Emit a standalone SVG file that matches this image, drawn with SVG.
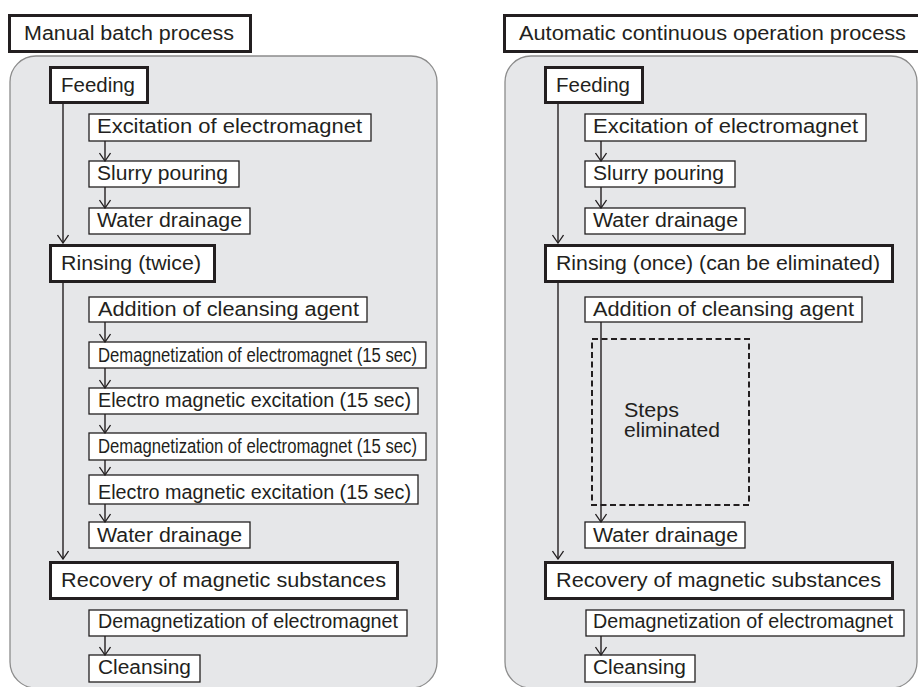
<svg xmlns="http://www.w3.org/2000/svg" width="918" height="687" viewBox="0 0 918 687">
<defs>
<style>
.panel{fill:#e6e7e9;stroke:#8c8c8c;stroke-width:1.3}
.thick{fill:#fff;stroke:#231f20;stroke-width:3}
.thin{fill:#fff;stroke:#231f20;stroke-width:1.3}
.t{font-family:"Liberation Sans",Arial,sans-serif;font-size:19.5px;fill:#231f20}
.ln{fill:none;stroke:#231f20;stroke-width:1.4}
.dash{fill:none;stroke:#231f20;stroke-width:2;stroke-dasharray:6 3.5}
</style>
<marker id="ah" viewBox="0 0 10 12" refX="9" refY="6" markerWidth="10" markerHeight="12" markerUnits="userSpaceOnUse" orient="auto">
<path d="M1,0.5 L9,6 L1,11.5" fill="none" stroke="#231f20" stroke-width="1.3"/>
</marker>
</defs>
<rect class="panel" x="10" y="56" width="427" height="632" rx="26"/>
<rect class="panel" x="505" y="56" width="412" height="632" rx="26"/>

<g id="left-title"><rect class="thick" x="9.5" y="15.5" width="241" height="36"/><text class="t" x="24" y="40" textLength="210" lengthAdjust="spacingAndGlyphs">Manual batch process</text></g>
<g id="L-feeding"><rect class="thick" x="50.5" y="67.5" width="97" height="35"/><text class="t" x="61" y="92" textLength="74" lengthAdjust="spacingAndGlyphs">Feeding</text></g>
<g id="L-excitation"><rect class="thin" x="89" y="114" width="282" height="27"/><text class="t" x="97" y="133" textLength="265" lengthAdjust="spacingAndGlyphs">Excitation of electromagnet</text></g>
<g id="L-slurry"><rect class="thin" x="89" y="161" width="150" height="26"/><text class="t" x="97" y="180" textLength="131" lengthAdjust="spacingAndGlyphs">Slurry pouring</text></g>
<g id="L-drain1"><rect class="thin" x="89" y="208" width="161" height="26"/><text class="t" x="97" y="227" textLength="145" lengthAdjust="spacingAndGlyphs">Water drainage</text></g>
<g id="L-rinsing"><rect class="thick" x="50.5" y="245.5" width="164" height="36"/><text class="t" x="61" y="270" textLength="140" lengthAdjust="spacingAndGlyphs">Rinsing (twice)</text></g>
<g id="L-addition"><rect class="thin" x="89" y="297" width="278" height="25"/><text class="t" x="98" y="316" textLength="261" lengthAdjust="spacingAndGlyphs">Addition of cleansing agent</text></g>
<g id="L-demag1"><rect class="thin" x="89" y="342" width="337" height="26"/><text class="t" x="98" y="362" textLength="319" lengthAdjust="spacingAndGlyphs">Demagnetization of electromagnet (15 sec)</text></g>
<g id="L-excit1"><rect class="thin" x="89" y="388" width="329" height="26"/><text class="t" x="98" y="407" textLength="313" lengthAdjust="spacingAndGlyphs">Electro magnetic excitation (15 sec)</text></g>
<g id="L-demag2"><rect class="thin" x="89" y="433" width="337" height="27"/><text class="t" x="98" y="453" textLength="319" lengthAdjust="spacingAndGlyphs">Demagnetization of electromagnet (15 sec)</text></g>
<g id="L-excit2"><rect class="thin" x="89" y="475" width="329" height="29"/><text class="t" x="98" y="499" textLength="313" lengthAdjust="spacingAndGlyphs">Electro magnetic excitation (15 sec)</text></g>
<g id="L-drain2"><rect class="thin" x="89" y="522" width="161" height="26"/><text class="t" x="97" y="542" textLength="145" lengthAdjust="spacingAndGlyphs">Water drainage</text></g>
<g id="L-recovery"><rect class="thick" x="50.5" y="562.5" width="347" height="36"/><text class="t" x="61" y="587" textLength="325" lengthAdjust="spacingAndGlyphs">Recovery of magnetic substances</text></g>
<g id="L-demag3"><rect class="thin" x="89" y="610" width="318" height="26"/><text class="t" x="98" y="628" textLength="300" lengthAdjust="spacingAndGlyphs">Demagnetization of electromagnet</text></g>
<g id="L-cleansing"><rect class="thin" x="89" y="655" width="111" height="27"/><text class="t" x="98" y="674" textLength="93" lengthAdjust="spacingAndGlyphs">Cleansing</text></g>

<g id="right-title"><rect class="thick" x="504.5" y="15.5" width="416" height="36"/><text class="t" x="519" y="40" textLength="387" lengthAdjust="spacingAndGlyphs">Automatic continuous operation process</text></g>
<g id="R-feeding"><rect class="thick" x="545.5" y="67.5" width="97" height="35"/><text class="t" x="556" y="92" textLength="74" lengthAdjust="spacingAndGlyphs">Feeding</text></g>
<g id="R-excitation"><rect class="thin" x="585" y="114" width="281" height="27"/><text class="t" x="593" y="133" textLength="265" lengthAdjust="spacingAndGlyphs">Excitation of electromagnet</text></g>
<g id="R-slurry"><rect class="thin" x="585" y="161" width="150" height="26"/><text class="t" x="593" y="180" textLength="131" lengthAdjust="spacingAndGlyphs">Slurry pouring</text></g>
<g id="R-drain1"><rect class="thin" x="585" y="208" width="160" height="26"/><text class="t" x="593" y="227" textLength="145" lengthAdjust="spacingAndGlyphs">Water drainage</text></g>
<g id="R-rinsing"><rect class="thick" x="545.5" y="245.5" width="347" height="36"/><text class="t" x="556" y="270" textLength="324" lengthAdjust="spacingAndGlyphs">Rinsing (once) (can be eliminated)</text></g>
<g id="R-addition"><rect class="thin" x="585" y="297" width="277" height="25"/><text class="t" x="593" y="316" textLength="261" lengthAdjust="spacingAndGlyphs">Addition of cleansing agent</text></g>
<g id="R-eliminated"><rect class="dash" x="592" y="339" width="157" height="166"/><text class="t" x="624" y="417" textLength="55" lengthAdjust="spacingAndGlyphs">Steps</text><text class="t" x="624" y="437" textLength="96" lengthAdjust="spacingAndGlyphs">eliminated</text></g>
<g id="R-drain2"><rect class="thin" x="585" y="522" width="160" height="26"/><text class="t" x="593" y="542" textLength="145" lengthAdjust="spacingAndGlyphs">Water drainage</text></g>
<g id="R-recovery"><rect class="thick" x="545.5" y="562.5" width="347" height="36"/><text class="t" x="556" y="587" textLength="325" lengthAdjust="spacingAndGlyphs">Recovery of magnetic substances</text></g>
<g id="R-demag3"><rect class="thin" x="586" y="610" width="318" height="26"/><text class="t" x="593" y="628" textLength="300" lengthAdjust="spacingAndGlyphs">Demagnetization of electromagnet</text></g>
<g id="R-cleansing"><rect class="thin" x="585" y="655" width="110" height="27"/><text class="t" x="593" y="674" textLength="93" lengthAdjust="spacingAndGlyphs">Cleansing</text></g>

<g id="connectors">
<line class="ln" x1="63" y1="104" x2="63" y2="243" marker-end="url(#ah)"/>
<line class="ln" x1="63" y1="283" x2="63" y2="559" marker-end="url(#ah)"/>
<line class="ln" x1="105" y1="141" x2="105" y2="161" marker-end="url(#ah)"/>
<line class="ln" x1="105" y1="187" x2="105" y2="208" marker-end="url(#ah)"/>
<line class="ln" x1="105" y1="322" x2="105" y2="342" marker-end="url(#ah)"/>
<line class="ln" x1="105" y1="368" x2="105" y2="388" marker-end="url(#ah)"/>
<line class="ln" x1="105" y1="414" x2="105" y2="433" marker-end="url(#ah)"/>
<line class="ln" x1="105" y1="460" x2="105" y2="475" marker-end="url(#ah)"/>
<line class="ln" x1="105" y1="504" x2="105" y2="522" marker-end="url(#ah)"/>
<line class="ln" x1="105" y1="636" x2="105" y2="655" marker-end="url(#ah)"/>
<line class="ln" x1="558" y1="104" x2="558" y2="243" marker-end="url(#ah)"/>
<line class="ln" x1="558" y1="283" x2="558" y2="559" marker-end="url(#ah)"/>
<line class="ln" x1="601" y1="141" x2="601" y2="161" marker-end="url(#ah)"/>
<line class="ln" x1="601" y1="187" x2="601" y2="208" marker-end="url(#ah)"/>
<line class="ln" x1="601" y1="322" x2="601" y2="522" marker-end="url(#ah)"/>
<line class="ln" x1="601" y1="636" x2="601" y2="655" marker-end="url(#ah)"/>
</g>
</svg>
